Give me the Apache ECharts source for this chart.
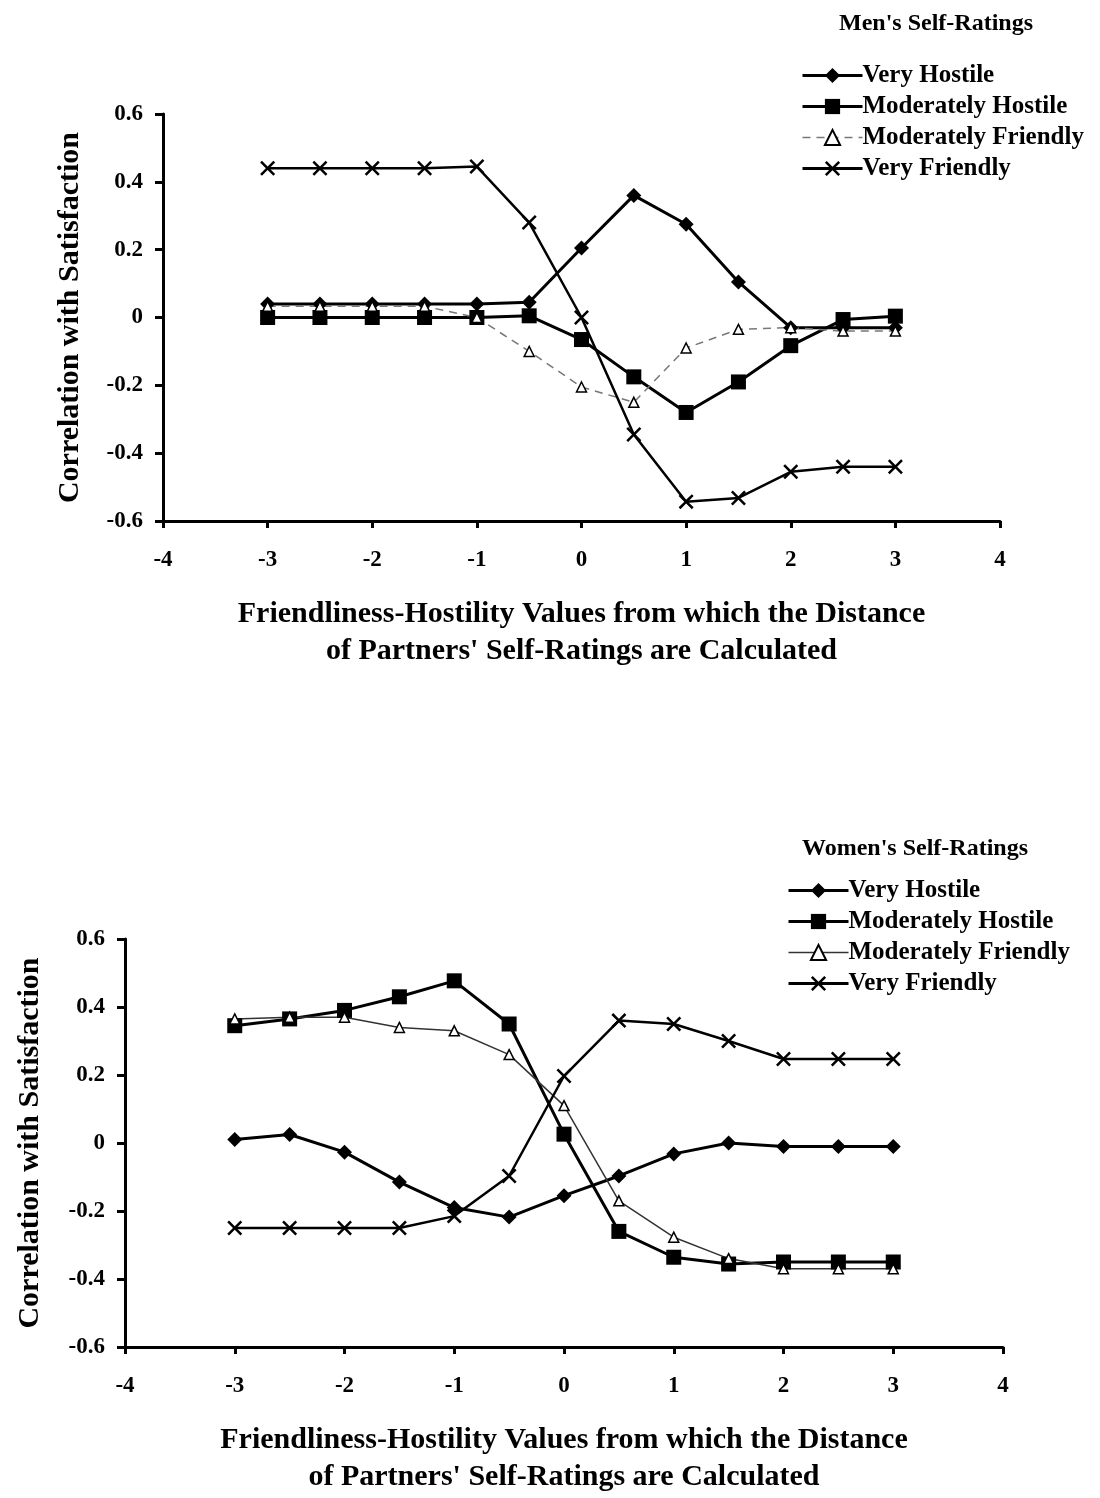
<!DOCTYPE html>
<html>
<head>
<meta charset="utf-8">
<script src="https://cdn.jsdelivr.net/npm/echarts@6/dist/echarts.min.js"></script>
<style>html,body{margin:0;padding:0;background:#fff}#c{width:1100px;height:1498px}</style>
</head>
<body>
<div id="c"></div>
<script>
const xVals = [-3,-2.5,-2,-1.5,-1,-0.5,0,0.5,1,1.5,2,2.5,3];
const seriesNames = ['Very Hostile','Moderately Hostile','Moderately Friendly','Very Friendly'];
const menVH = [0.04,0.04,0.04,0.04,0.04,0.045,0.205,0.36,0.275,0.105,-0.03,-0.03,-0.03];
const menMH = [0,0,0,0,0,0.005,-0.065,-0.175,-0.28,-0.19,-0.083,-0.006,0.004];
const menMF = [0.033,0.033,0.033,0.033,0,-0.1,-0.205,-0.25,-0.09,-0.035,-0.03,-0.04,-0.04];
const menVF = [0.44,0.44,0.44,0.44,0.445,0.28,0,-0.345,-0.543,-0.532,-0.455,-0.44,-0.44];
const womenVH = [0.01,0.025,-0.027,-0.115,-0.19,-0.218,-0.155,-0.097,-0.032,0,-0.01,-0.01,-0.01];
const womenMH = [0.345,0.365,0.39,0.43,0.477,0.35,0.026,-0.26,-0.336,-0.356,-0.35,-0.35,-0.35];
const womenMF = [0.365,0.37,0.37,0.34,0.33,0.26,0.11,-0.17,-0.277,-0.34,-0.37,-0.37,-0.37];
const womenVF = [-0.25,-0.25,-0.25,-0.25,-0.215,-0.097,0.197,0.36,0.35,0.30,0.247,0.247,0.247];
const xTicks = {min:-4, max:4, interval:1};
const yTicks = {min:-0.6, max:0.6, interval:0.2};
const xName = "Friendliness-Hostility Values from which the Distance\nof Partners' Self-Ratings are Calculated";
const yName = 'Correlation with Satisfaction';
const panelTitles = ["Men's Self-Ratings", "Women's Self-Ratings"];

const FONT = '"Liberation Serif", "Times New Roman", serif';
const CROSS = 'path://M0,1.2L1.2,0L5,3.8L8.8,0L10,1.2L6.2,5L10,8.8L8.8,10L5,6.2L1.2,10L0,8.8L3.8,5Z';
const pair = arr => xVals.map((x,i)=>[x, arr[i]]);

function mkSeries(prefix, idx, vh, mh, mf, vf, mfDashed){
  const base = {type:'line', xAxisIndex:idx, yAxisIndex:idx, animation:false, z:2};
  return [
    Object.assign({}, base, {name:prefix+seriesNames[0], data:pair(vh), symbol:'diamond', symbolSize:15,
      lineStyle:{color:'#000', width:3}, itemStyle:{color:'#000'}}),
    Object.assign({}, base, {name:prefix+seriesNames[1], data:pair(mh), symbol:'rect', symbolSize:15,
      lineStyle:{color:'#000', width:3}, itemStyle:{color:'#000'}}),
    Object.assign({}, base, {name:prefix+seriesNames[2], data:pair(mf), symbol:'triangle', symbolSize:10,
      lineStyle:{color: mfDashed ? '#777' : '#333', width:1.5, type: mfDashed ? [8,6] : 'solid'},
      itemStyle:{color:'#fff', borderColor:'#000', borderWidth:1.5}}),
    Object.assign({}, base, {name:prefix+seriesNames[3], data:pair(vf), symbol:CROSS, symbolSize:15,
      lineStyle:{color:'#000', width:2.5}, itemStyle:{color:'#000'}})
  ];
}

function mkX(idx, gap){
  return {type:'value', gridIndex:idx, min:xTicks.min, max:xTicks.max, interval:xTicks.interval,
    name:xName, nameLocation:'middle', nameGap:gap,
    nameTextStyle:{fontFamily:FONT, fontWeight:'bold', fontSize:30, color:'#000', lineHeight:37},
    axisLine:{onZero:false, lineStyle:{color:'#000', width:3}},
    axisTick:{inside:false, length:7, lineStyle:{color:'#000', width:3}},
    axisLabel:{fontFamily:FONT, fontWeight:'bold', fontSize:23, color:'#000', margin:28},
    splitLine:{show:false}};
}
function mkY(idx, gap){
  return {type:'value', gridIndex:idx, min:yTicks.min, max:yTicks.max, interval:yTicks.interval,
    name:yName, nameLocation:'middle', nameGap:gap,
    nameTextStyle:{fontFamily:FONT, fontWeight:'bold', fontSize:30, color:'#000'},
    axisLine:{show:true, onZero:false, lineStyle:{color:'#000', width:3}},
    axisTick:{show:true, inside:false, length:8, lineStyle:{color:'#000', width:3}},
    axisLabel:{fontFamily:FONT, fontWeight:'bold', fontSize:23, color:'#000', margin:20},
    splitLine:{show:false}};
}
function mkLegend(prefix, left, top, mfDashed){
  return {left:left, top:top, orient:'vertical', itemWidth:60, itemHeight:19, itemGap:6,
    data: seriesNames.map((n,i)=>({name:prefix+n,
      lineStyle: i===2 ? {width:1.5, color: mfDashed ? '#777' : '#333', type: mfDashed ? [8,6] : 'solid'}
                       : {width:3, color:'#000'}})),
    formatter: n => n.slice(prefix.length),
    textStyle:{fontFamily:FONT, fontWeight:'bold', fontSize:25, color:'#000', padding:[0,0,0,-5]},
    selectedMode:false};
}

const chart = echarts.init(document.getElementById('c'), null, {renderer:'canvas'});
chart.setOption({
  backgroundColor:'#fff',
  animation:false,
  title:[
    {text:panelTitles[0], left:834, top:7, textStyle:{fontFamily:FONT, fontWeight:'bold', fontSize:24, color:'#000'}},
    {text:panelTitles[1], left:797, top:832, textStyle:{fontFamily:FONT, fontWeight:'bold', fontSize:24, color:'#000'}}
  ],
  legend:[ mkLegend('Men: ', 796, 58, true), mkLegend('Women: ', 782, 873, false) ],
  grid:[
    {left:163, top:114, width:837, height:407},
    {left:125, top:939, width:878, height:408}
  ],
  xAxis:[ mkX(0, 75), mkX(1, 75) ],
  yAxis:[ mkY(0, 78), mkY(1, 80) ],
  series:[].concat(
    mkSeries('Men: ', 0, menVH, menMH, menMF, menVF, true),
    mkSeries('Women: ', 1, womenVH, womenMH, womenMF, womenVF, false)
  )
});
</script>
</body>
</html>
